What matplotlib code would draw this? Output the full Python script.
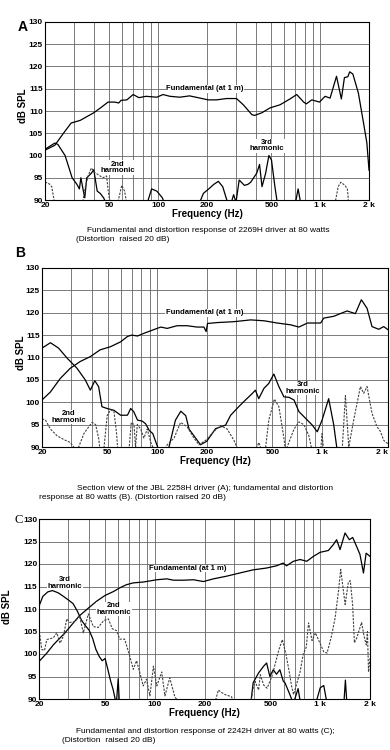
import numpy as np
import matplotlib
matplotlib.use('Agg')
import matplotlib.pyplot as plt

plt.rcParams['font.family'] = ['Liberation Sans', 'DejaVu Sans']

#grid and tick values shared by the three panels
grid_freq = [20, 30, 40, 50, 60, 70, 80, 90, 100, 200, 300, 400, 500,
             600, 700, 800, 900, 1000, 2000]
tick_freq = [20, 50, 100, 200, 500, 1000, 2000]
tick_labels = ['20', '50', '100', '200', '500', '1 k', '2 k']
db_ticks = [90, 95, 100, 105, 110, 115, 120, 125, 130]

#panel A : 2269H
fa_freq = [20, 23, 26, 29, 33, 40, 44, 49, 54, 57, 59, 64, 70, 76, 84, 98,
           107, 118, 136, 156, 181, 203, 229, 264, 304, 335, 378, 393, 436,
           490, 565, 650, 716, 790, 820, 887, 990, 1070, 1150, 1260, 1350,
           1410, 1480, 1520, 1590, 1720, 1850, 1940, 2000]
fa_db = [101.2, 102.3, 105.0, 107.3, 107.9, 109.6, 110.7, 112.0, 112.0, 111.8,
         112.4, 112.5, 113.7, 113.0, 113.3, 113.1, 113.7, 113.3, 113.1, 113.4,
         112.9, 112.5, 112.5, 112.8, 112.8, 111.4, 109.2, 109.0, 109.6, 110.7,
         111.4, 112.7, 113.7, 112.0, 111.6, 112.5, 112.0, 113.3, 112.9, 117.8,
         112.7, 117.5, 117.7, 118.8, 118.3, 114.0, 107.3, 102.8, 96.7]
a3_freq = [20, 23, 24, 26.6, 29.4, 31.5, 32.6, 33.3, 34.5, 35.2, 36.2, 38.6,
           40, 42, 43.8, 46, 48, 85, 91, 98, 106, 110, 178, 190, 205, 220,
           235, 250, 265, 280, 292, 302, 316, 340, 357, 372, 405, 422, 437,
           460, 482, 500, 525, 545, 700, 730, 760, 2000]
a3_db = [101.4, 102.8, 102.5, 100, 95, 93.5, 92.5, 95, 92, 90.5, 95, 96, 96.8,
         92, 91.5, 90.5, 89, 89, 92.5, 92, 90.5, 89, 89, 91.5, 92.5, 93.5,
         94.2, 93, 90, 89, 91.2, 89.5, 94.5, 93.3, 93.5, 94, 96, 98, 93, 96,
         100, 99, 93, 89, 89, 92.5, 89, 89]
a2_freq = [20, 21, 22, 23, 34, 35.5, 37, 38.6, 40.5, 43, 45.5, 48, 49.5, 51,
           56, 59.5, 62, 64, 1230, 1290, 1340, 1420, 1470, 1500, 2000]
a2_db = [94, 93.8, 93, 89, 89, 93, 95.5, 97.2, 96.2, 95.6, 95.0, 95.4, 91, 89,
         89, 93.3, 92, 89, 89, 93, 94, 93.3, 92.5, 89, 89]

#panel B : 2258H
fb_freq = [20, 22.5, 25.8, 29.7, 34.1, 39.3, 45, 52, 60, 66, 70, 76, 83, 95,
           105, 115, 132, 152, 174, 192, 198, 202, 231, 292, 369, 445, 535,
           644, 724, 815, 980, 1018, 1130, 1300, 1419, 1511, 1604, 1690, 1813,
           1911, 2000]
fb_db = [100.5, 102.3, 105.3, 107.6, 109.1, 110.2, 111.7, 112.4, 113.5, 114.7,
         115.0, 114.8, 115.4, 116.2, 116.8, 116.5, 117.1, 117.1, 116.8, 116.8,
         115.8, 117.6, 117.8, 118.0, 118.4, 118.2, 117.7, 117.3, 116.8, 117.7,
         117.7, 118.8, 119.2, 120.4, 119.8, 122.9, 121.0, 116.9, 116.3, 116.9,
         116.2]
b3_freq = [20, 22.5, 25.2, 28.5, 32.6, 36.6, 39.3, 41.8, 44.1, 46.2, 49.7,
           54.6, 60, 66, 69, 72, 76, 81, 85, 89.5, 94, 99, 103, 117, 129, 139,
           149, 156, 167, 183, 200, 226, 260, 279, 312, 343, 376, 394, 413,
           444, 475, 510, 547, 587, 630, 676, 724, 795, 872, 935, 1000, 1072,
           1130, 1170, 2000]
b3_db = [112.1, 113.3, 112.1, 109.8, 107.6, 105, 102.7, 104.8, 103.5, 99,
         98.6, 98.2, 97.1, 97.1, 98.6, 97.9, 96, 95.8, 95.2, 93.7, 93, 90.7, 89,
         89.5, 96, 98, 97, 94, 92.5, 90.5, 91.3, 94.1, 94.9, 97.1, 99, 100.5,
         101.9, 102.7, 100.8, 103.1, 104.2, 106.3, 103.5, 101.2, 101.1, 100.5,
         97.9, 96.4, 94.9, 93.4, 96, 100.8, 95, 89.5, 89]
b2_freq = [20, 21, 22.5, 24.7, 27, 29.7, 31.9, 33.4, 35.9, 38.4, 40.3, 42.3,
           44.1, 45.1, 47.3, 49.7, 52.1, 54.6, 56.7, 57.7, 67.3, 69.6, 72.3,
           73.9, 75.7, 79.4, 83, 87, 91.5, 95.2, 110, 115, 126.5, 138.6, 152,
           167, 179, 197, 221, 242, 266, 292, 312, 394, 413, 434, 455, 475,
           514, 547, 587, 600, 614, 676, 724, 776, 832, 872, 980, 1000, 1018,
           1234, 1278, 1324, 1394, 1496, 1549, 1604, 1690, 1782, 1845, 1911,
           2000]
b2_db = [96.3, 96, 94, 92.5, 91.7, 91, 89.5, 90, 93, 94.5, 95.5, 95, 92, 89,
         89, 97, 98.3, 98, 93, 89, 89, 95.5, 95, 90, 95, 94, 92, 94, 91, 89.5,
         89, 90.5, 92, 95.5, 94.5, 92, 90.5, 91.5, 93.5, 94.8, 94, 91.5, 89,
         89, 91, 89, 90, 96, 100.7, 99, 92, 89, 90, 94, 95.6, 95, 92.5, 89, 89,
         93, 89, 89, 101.5, 90, 96, 103.5, 102, 103.5, 97.5, 94.5, 93.5, 91.5,
         90.7]

#panel C : 2242H
fc_freq = [20, 22.2, 24.4, 28.6, 32.1, 35, 39.6, 44.3, 49.9, 56.3, 61.3, 67.3,
           74, 85.3, 102.7, 118, 129.6, 148.9, 171, 196.7, 226, 272, 326, 393,
           473, 544, 597, 626, 688, 755, 829, 910, 999, 1120, 1200, 1257, 1318,
           1413, 1500, 1572, 1660, 1740, 1826, 1895, 2000]
fc_db = [98.4, 100.2, 102.1, 104.7, 106.9, 108.5, 110.2, 111.7, 113.0, 113.9,
         114.7, 115.4, 115.8, 116.0, 116.5, 116.7, 116.4, 116.4, 116.5, 116.1,
         116.7, 117.3, 118.0, 118.7, 119.1, 119.6, 120.2, 119.6, 120.6, 121.0,
         120.6, 121.7, 122.6, 123.0, 124.3, 125.4, 123.2, 126.9, 125.4, 125.9,
         123.9, 122.1, 118.0, 122.4, 121.7]
c3_freq = [20, 21, 22.5, 24, 26, 28, 30, 32, 34, 36, 38, 40, 42, 44, 46, 48,
           50, 52, 54, 56, 57.5, 58.5, 60, 61, 380, 393, 424, 455, 474, 496,
           520, 544, 570, 597, 612, 650, 688, 716, 735, 760, 940, 1000, 1050,
           1100, 1390, 1420, 1450, 2000]
c3_db = [110.8, 112.8, 113.8, 114.1, 113.6, 112.8, 112.0, 111.2, 109.5, 107.5,
         106.3, 105.3, 103.5, 101, 99.5, 98.5, 99, 96.5, 94, 92, 90, 89, 94.5,
         89, 89, 93.6, 95.8, 97.3, 98, 95, 96.5, 95.5, 96.5, 94, 93.6, 91.3,
         89, 91, 92.3, 89, 89, 92.5, 93, 89, 89, 94.2, 89, 89]
c2_freq = [20, 20.7, 21.5, 22.2, 24.3, 25.5, 26.7, 28, 29.3, 30.6, 32.9, 35,
           36.9, 39.6, 42.4, 45.4, 48.9, 52.3, 55.3, 58.7, 61.3, 65.6, 70.4,
           74, 77.5, 81, 85, 89, 93.3, 98, 102.7, 110, 115, 123, 132, 141, 230,
           242, 252, 265, 291, 300, 380, 393, 404, 424, 434, 455, 477, 510, 563,
           590, 620, 650, 670, 690, 716, 755, 790, 823, 850, 892, 935, 980,
           1050, 1100, 1170, 1230, 1290, 1330, 1415, 1480, 1520, 1570, 1610,
           1660, 1780, 1840, 1900, 1930, 1960, 2000]
c2_db = [105, 101, 100.8, 103.2, 103.6, 104.7, 102.4, 104, 107.8, 107, 107.2,
         108.5, 104.7, 108.9, 106.1, 105.9, 107.4, 107.8, 105.6, 105.2, 103.3,
         103.3, 99.6, 96.6, 98.5, 95.9, 92.9, 94.4, 90.7, 97.3, 92.9, 96, 90.7,
         94.7, 90.5, 89, 89, 92, 91.5, 91, 90.5, 89, 89, 92.4, 93.9, 92, 95.4,
         93.1, 92.4, 95, 101, 103.2, 100, 96, 93, 91, 93, 96, 100, 101.5, 106.9,
         103, 104.7, 103, 100.5, 100.2, 104, 108, 114, 118.8, 111, 116, 116.3,
         111, 102.5, 103.5, 107, 104, 102, 105, 96, 99]


#panel B is drawn with the last octave a bit wider than the rest
def b_forward(f):
    lf = np.log10(np.clip(np.asarray(f, float), 1e-6, None))
    return np.where(lf <= 3, lf, 3 + (lf - 3) * 1.33)


def b_inverse(v):
    v = np.asarray(v, float)
    return np.where(v <= 3, 10 ** v, 10 ** (3 + (v - 3) / 1.33))


def panel(rect, fund, third, second, labels, ylab_pos, stretch=False):
    '''
    draws one response chart: fundamental, 3rd harmonic (solid)
    and 2nd harmonic (dashed)
    '''
    ax = fig.add_axes(rect)
    if stretch:
        ax.set_xscale('function', functions=(b_forward, b_inverse))
    else:
        ax.set_xscale('log')
    ax.set_xlim(20, 2000)
    ax.set_ylim(90, 130)

    ax.set_xticks(grid_freq, minor=True)
    ax.set_xticks(tick_freq)
    ax.set_xticklabels(tick_labels, fontsize=6, fontweight='bold')
    ax.xaxis.set_minor_formatter(matplotlib.ticker.NullFormatter())
    ax.set_yticks(db_ticks)
    ax.set_yticklabels([str(d) for d in db_ticks], fontsize=6,
                       fontweight='bold')
    ax.tick_params(which='both', length=0, pad=1.5)
    ax.grid(which='both', color='0.4', linewidth=0.6)
    for s in ax.spines.values():
        s.set_linewidth(0.8)

    ax.plot(fund[0], fund[1], color='black', linewidth=0.9)
    ax.plot(third[0], third[1], color='black', linewidth=0.9)
    ax.plot(second[0], second[1], color='0.25', linewidth=0.8,
            linestyle=(0, (2, 1.2)))

    for txt, fx, dy in labels:
        ax.text(fx, dy, txt, fontsize=5.5, fontweight='bold', ha='center',
                va='center', linespacing=0.9,
                bbox=dict(facecolor='white', edgecolor='none', pad=0.3))

    ax.set_xlabel('Frequency (Hz)', fontsize=7, fontweight='bold', labelpad=0)
    ax.set_ylabel('dB SPL', fontsize=7, fontweight='bold')
    ax.yaxis.set_label_coords(ylab_pos[0], ylab_pos[1])
    return ax


fig = plt.figure(figsize=(3.9, 7.5), dpi=100)

panel([0.1154, 0.7333, 0.8308, 0.2374], (fa_freq, fa_db), (a3_freq, a3_db),
      (a2_freq, a2_db),
      [('Fundamental (at 1 m)', 194, 115), ('2nd\nharmonic', 56, 97.3),
       ('3rd\nharmonic', 469, 102.2)], (-0.052, 0.53))
ax_b = panel([0.1077, 0.4040, 0.8873, 0.2387], (fb_freq, fb_db),
             (b3_freq, b3_db), (b2_freq, b2_db),
             [('Fundamental (at 1 m)', 193, 120), ('3rd\nharmonic', 759, 103.2),
              ('2nd\nharmonic', 29, 96.7)], (-0.045, 0.525), stretch=True)
#last label of panel B sits inside the right corner
ax_b.get_xticklabels()[-1].set_horizontalalignment('right')
panel([0.1008, 0.0680, 0.8479, 0.2400], (fc_freq, fc_db), (c3_freq, c3_db),
      (c2_freq, c2_db),
      [('Fundamental (at 1 m)', 157, 119), ('3rd\nharmonic', 28.6, 115.8),
       ('2nd\nharmonic', 56.6, 110)], (-0.083, 0.51))

#panel letters
fig.text(0.044, 0.964, 'A', fontsize=10, fontweight='bold', va='center')
fig.text(0.038, 0.663, 'B', fontsize=10, fontweight='bold', va='center')
fig.text(0.036, 0.307, 'C', fontsize=9, family='Liberation Serif',
         va='center')

#captions under each chart
cap = dict(fontsize=6, va='center')
fig.text(0.223, 0.693,
         'Fundamental and distortion response of 2269H driver at 80 watts',
         **cap)
fig.text(0.195, 0.681, '(Distortion  raised 20 dB)', **cap)
fig.text(0.197, 0.349,
         'Section view of the JBL 2258H driver (A); fundamental and distortion',
         **cap)
fig.text(0.100, 0.337, 'response at 80 watts (B). (Distortion raised 20 dB)',
         **cap)
fig.text(0.195, 0.025,
         'Fundamental and distortion response of 2242H driver at 80 watts (C);',
         **cap)
fig.text(0.160, 0.013, '(Distortion  raised 20 dB)', **cap)

plt.savefig('out.png', dpi=100)
